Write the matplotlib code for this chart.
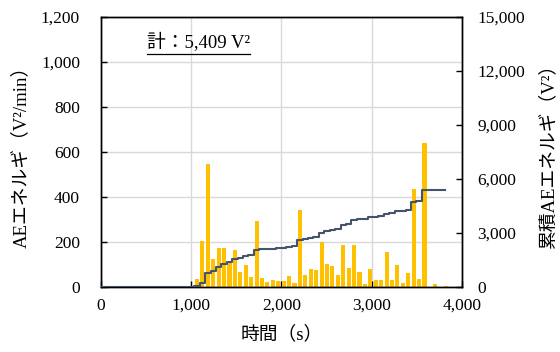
import numpy as np
import matplotlib
matplotlib.use("Agg")
import matplotlib.pyplot as plt
from matplotlib.ticker import FuncFormatter, MultipleLocator
from matplotlib.lines import Line2D

plt.rcParams['font.family'] = ['Liberation Serif', 'Noto Sans CJK JP']
plt.rcParams['axes.unicode_minus'] = False

# AE energy per minute (V^2/min), one bar per minute of the test
tiempo_s = np.arange(1065, 3826, 60)
energia = [35, 203, 548, 122, 174, 175, 114, 166, 67, 97,
           46, 291, 41, 21, 32, 28, 24, 48, 17, 340,
           51, 78, 73, 201, 100, 92, 51, 187, 85, 187,
           67, 15, 81, 32, 30, 156, 29, 98, 18, 61,
           434, 33, 641, 0, 14, 0, 6]
energia = np.array(energia, dtype=float)
acumulada = np.cumsum(energia)
total = acumulada[-1]

color_barra = '#FFC000'
color_linea = '#44546A'

fig = plt.figure(figsize=(5.6, 3.52), dpi=100)
ax = fig.add_axes([0.180, 0.185, 0.645, 0.767])
ax2 = ax.twinx()

ax.bar(tiempo_s, energia, width=45, color=color_barra, zorder=2)

# cumulative curve steps up at the start of each minute
bordes = np.r_[0, tiempo_s - 30, tiempo_s[-1] - 10]
curva = np.r_[0, acumulada, acumulada[-1]]
ax2.step(bordes, curva, where='post', color=color_linea, lw=1.5, zorder=3)

ax.set_xlim(0, 4000)
ax.set_ylim(0, 1200)
ax2.set_ylim(0, 15000)
ax.xaxis.set_major_locator(MultipleLocator(1000))
ax.yaxis.set_major_locator(MultipleLocator(200))
ax2.yaxis.set_major_locator(MultipleLocator(3000))

coma = FuncFormatter(lambda v, p: f'{v:,.0f}')
ax.xaxis.set_major_formatter(coma)
ax.yaxis.set_major_formatter(coma)
ax2.yaxis.set_major_formatter(coma)

ax.grid(True, color='#d9d9d9', lw=1, zorder=0)
ax.set_axisbelow(True)
ax.set_zorder(ax2.get_zorder() - 1)
ax.patch.set_visible(True)
ax2.patch.set_visible(False)

for a in (ax, ax2):
    a.tick_params(direction='in', length=4, width=1, labelsize=12.5, colors='black')
    for s in a.spines.values():
        s.set_color('black')
        s.set_linewidth(1)
ax.tick_params(axis='x', pad=8)
ax.tick_params(axis='y', pad=15)
ax2.tick_params(axis='y', pad=11)

ax.set_xlabel('時間（s）', fontsize=13.5, labelpad=8)
ax.set_ylabel('AEエネルギ（V²/min）', fontsize=13.5, labelpad=8)
ax2.set_ylabel('累積AEエネルギ（V²）', fontsize=13.5, labelpad=10)

txt = ax.text(0.127, 0.884, f'計：{total:,.0f} V²', transform=ax.transAxes,
              fontsize=13.5, ha='left', va='baseline')

# underline the total
fig.canvas.draw()
bb = txt.get_window_extent(renderer=fig.canvas.get_renderer())
W, H = fig.bbox.width, fig.bbox.height
y_line = (bb.y0 - 1.5) / H
fig.add_artist(Line2D([bb.x0 / W, bb.x1 / W], [y_line, y_line], color='black', lw=0.9))

fig.savefig('out.png', dpi=100)
